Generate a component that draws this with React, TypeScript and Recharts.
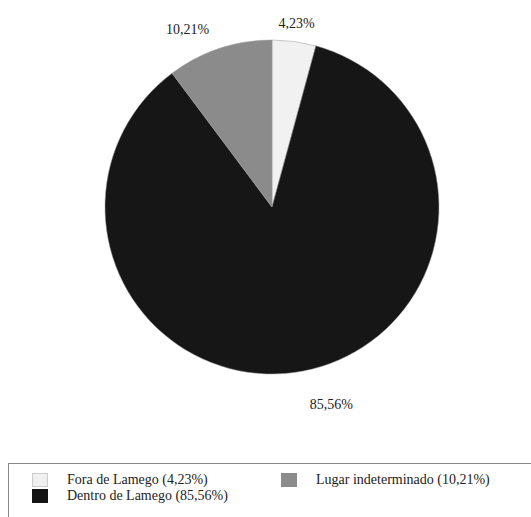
import React from "react"
import { PieChart, Pie, Cell, Legend } from "recharts"

const categories = ["Fora de Lamego", "Dentro de Lamego", "Lugar indeterminado"]
const shares = [4.23, 85.56, 10.21]
const labels = ["4,23%", "85,56%", "10,21%"]

const COLORS = ["#f1f1f1", "#161616", "#8b8b8b"]
const LABEL_R = [185, 206, 197]
const LABEL_SHIFT = [0, 6, 7]

const pieData = categories.map((name, i) => ({ name, value: shares[i], label: labels[i] }))

const RAD = Math.PI / 180

function renderLabel(props: any) {
  const { cx, cy, midAngle, index } = props
  const a = midAngle + LABEL_SHIFT[index]
  const r = LABEL_R[index]
  const x = cx + r * Math.cos(-a * RAD)
  const y = cy + r * Math.sin(-a * RAD)
  return (
    <text x={x} y={y} textAnchor="middle" dominantBaseline="central" fill="#222" fontSize={14} fontFamily="'Liberation Serif', serif">
      {labels[index]}
    </text>
  )
}

function LegendBox({ payload }: any) {
  // keep the original order: Fora, Dentro (column 1), Lugar (column 2)
  const items = [...(payload ?? [])].sort(
    (a: any, b: any) => categories.indexOf(a.value) - categories.indexOf(b.value)
  )
  return (
    <div
      style={{
        position: "absolute",
        left: 8,
        top: 463,
        width: 540,
        height: 70,
        border: "1px solid #8a8a8a",
        boxSizing: "border-box",
      }}
    >
      <div
        style={{
          display: "grid",
          gridTemplateRows: "16px 16px",
          gridTemplateColumns: "249px 240px",
          gridAutoFlow: "column",
          paddingLeft: 23,
          paddingTop: 8,
          fontFamily: "'Liberation Serif', serif",
          fontSize: 14,
          color: "#222",
        }}
      >
        {items.map((p: any) => {
          const i = categories.indexOf(p.value)
          return (
            <div key={p.value} style={{ display: "flex", alignItems: "center", height: 16 }}>
              <span
                style={{
                  display: "inline-block",
                  width: 16,
                  height: 14,
                  background: COLORS[i],
                  border: i === 0 ? "1px solid #ccc" : "none",
                  boxSizing: "border-box",
                  marginRight: 19,
                }}
              />
              <span>{`${p.value} (${labels[i]})`}</span>
            </div>
          )
        })}
      </div>
    </div>
  )
}

export default function App() {
  return (
    <div style={{ position: "absolute", left: 0, top: 0, width: 531, height: 517, background: "#fff", overflow: "hidden" }}>
      <PieChart width={531} height={517} margin={{ top: 0, right: 0, bottom: 0, left: 0 }}>
        <Pie
          data={pieData}
          dataKey="value"
          nameKey="name"
          cx={272}
          cy={207}
          outerRadius={167}
          startAngle={90}
          endAngle={-270}
          stroke="#9a9a9a"
          strokeWidth={0.5}
          label={renderLabel}
          labelLine={false}
          isAnimationActive={false}
        >
          {pieData.map((d, i) => (
            <Cell key={d.name} fill={COLORS[i]} />
          ))}
        </Pie>
        <Legend content={<LegendBox />} wrapperStyle={{ position: "absolute", left: 0, top: 0, width: 531, height: 517 }} />
      </PieChart>
    </div>
  )
}
